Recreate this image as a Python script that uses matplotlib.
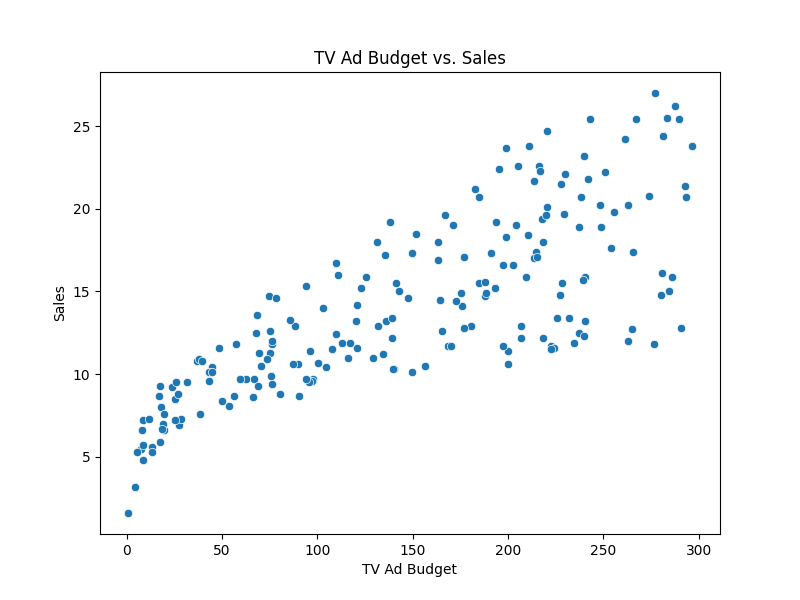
import matplotlib
matplotlib.use("Agg")
import matplotlib.pyplot as plt
import seaborn as sns

tv = [230.1, 44.5, 17.2, 151.5, 180.8, 8.7, 57.5, 120.2, 8.6, 199.8, 66.1, 214.7, 23.8, 97.5, 204.1, 195.4, 67.8, 281.4, 69.2, 147.3,
      218.4, 237.4, 13.2, 228.3, 62.3, 262.9, 142.9, 240.1, 248.8, 70.6, 292.9, 112.9, 97.2, 265.6, 95.7, 290.7, 266.9, 74.7, 43.1, 228,
      202.5, 177, 293.6, 206.9, 25.1, 175.1, 89.7, 239.9, 227.2, 66.9, 199.8, 100.4, 216.4, 182.6, 262.7, 198.9, 7.3, 136.2, 210.8, 210.7,
      53.5, 261.3, 239.3, 102.7, 131.1, 69, 31.5, 139.3, 237.4, 216.8, 199.1, 109.8, 26.8, 129.4, 213.4, 16.9, 27.5, 120.5, 5.4, 116,
      76.4, 239.8, 75.3, 68.4, 213.5, 193.2, 76.3, 110.7, 88.3, 109.8, 134.3, 28.6, 217.7, 250.9, 107.4, 163.3, 197.6, 184.9, 289.7, 135.2,
      222.4, 296.4, 280.2, 187.9, 238.2, 137.9, 25, 90.4, 13.1, 255.4, 225.8, 241.7, 175.7, 209.6, 78.2, 75.1, 139.2, 76.4, 125.7, 19.4,
      141.3, 18.8, 224, 123.1, 229.5, 87.2, 7.8, 80.2, 220.3, 59.6, 0.7, 265.2, 8.4, 219.8, 36.9, 48.3, 25.6, 273.7, 43, 184.9,
      73.4, 193.7, 220.5, 104.6, 96.2, 140.3, 240.1, 243.2, 38, 44.7, 280.7, 121, 197.6, 171.3, 187.8, 4.1, 93.9, 149.8, 11.7, 131.7,
      172.5, 85.7, 188.4, 163.5, 117.2, 234.5, 17.9, 206.8, 215.4, 284.3, 50, 164.5, 19.6, 168.4, 222.4, 276.9, 248.4, 170.2, 276.7, 165.6,
      156.6, 218.5, 56.2, 287.6, 253.8, 205, 139.5, 191.1, 286, 18.7, 39.5, 75.5, 17.2, 166.8, 149.7, 38.2, 94.2, 177, 283.6, 232.1]

sales = [22.1, 10.4, 9.3, 18.5, 12.9, 7.2, 11.8, 13.2, 4.8, 10.6, 8.6, 17.4, 9.2, 9.7, 19, 22.4, 12.5, 24.4, 11.3, 14.6,
         18, 12.5, 5.6, 15.5, 9.7, 12, 15, 15.9, 18.9, 10.5, 21.4, 11.9, 9.6, 17.4, 9.5, 12.8, 25.4, 14.7, 10.1, 21.5,
         16.6, 17.1, 20.7, 12.9, 8.5, 14.9, 10.6, 23.2, 14.8, 9.7, 11.4, 10.7, 22.6, 21.2, 20.2, 23.7, 5.5, 13.2, 23.8, 18.4,
         8.1, 24.2, 15.7, 14, 18, 9.3, 9.5, 13.4, 18.9, 22.3, 18.3, 12.4, 8.8, 11, 17, 8.7, 6.9, 14.2, 5.3, 11,
         11.8, 12.3, 11.3, 13.6, 21.7, 15.2, 12, 16, 12.9, 16.7, 11.2, 7.3, 19.4, 22.2, 11.5, 16.9, 11.7, 15.5, 25.4, 17.2,
         11.7, 23.8, 14.8, 14.7, 20.7, 19.2, 7.2, 8.7, 5.3, 19.8, 13.4, 21.8, 14.1, 15.9, 14.6, 12.6, 12.2, 9.4, 15.9, 6.6,
         15.5, 7, 11.6, 15.2, 19.7, 10.6, 6.6, 8.8, 24.7, 9.7, 1.6, 12.7, 5.7, 19.6, 10.8, 11.6, 9.5, 20.8, 9.6, 20.7,
         10.9, 19.2, 20.1, 10.4, 11.4, 10.3, 13.2, 25.4, 10.9, 10.1, 16.1, 11.6, 16.6, 19, 15.6, 3.2, 15.3, 10.1, 7.3, 12.9,
         14.4, 13.3, 14.9, 18, 11.9, 11.9, 8, 12.2, 17.1, 15, 8.4, 14.5, 7.6, 11.7, 11.5, 27, 20.2, 11.7, 11.8, 12.6,
         10.5, 12.2, 8.7, 26.2, 17.6, 22.6, 10.3, 17.3, 15.9, 6.7, 10.8, 9.9, 5.9, 19.6, 17.3, 7.6, 9.7, 12.8, 25.5, 13.4]

n = min(len(tv), len(sales))
print(len(tv), len(sales))

fig = plt.figure(figsize=(8, 6), dpi=100)
sns.scatterplot(x=tv[:n], y=sales[:n])
plt.title('TV Ad Budget vs. Sales')
plt.xlabel('TV Ad Budget')
plt.ylabel('Sales')
plt.savefig("out.png")
